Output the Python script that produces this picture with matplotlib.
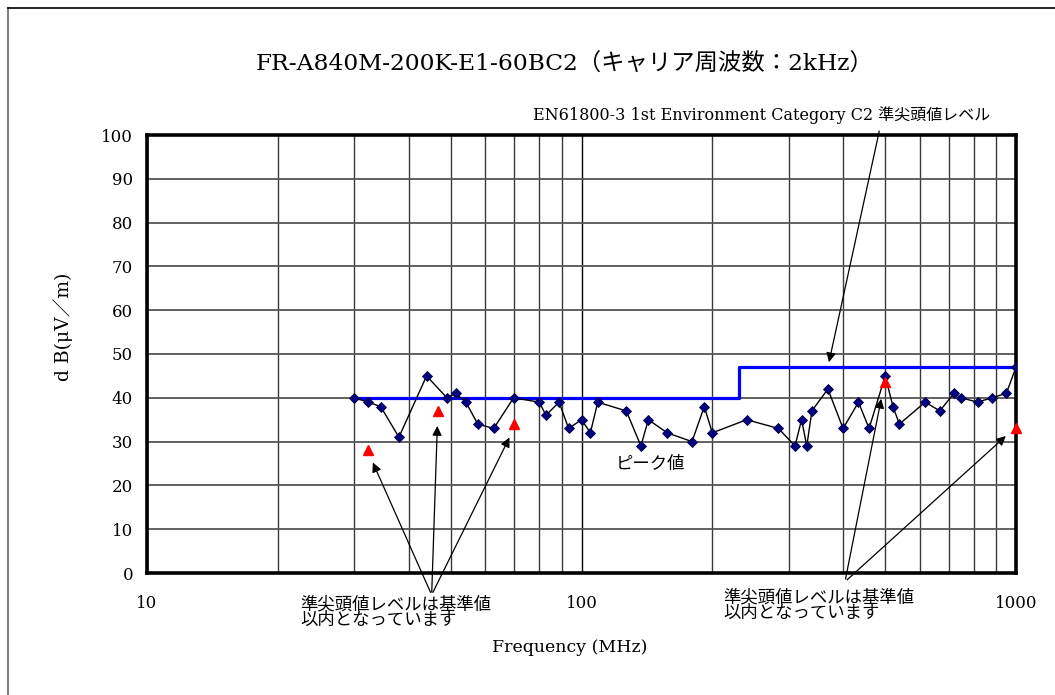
import matplotlib
matplotlib.use('Agg')
import matplotlib.pyplot as plt
from matplotlib.lines import Line2D
from matplotlib.ticker import FixedLocator, NullFormatter

plt.rcParams['font.family'] = ['DejaVu Serif', 'Noto Sans CJK JP']

# peak values (MHz, dB)
peak_freq = [30, 32.3, 34.5, 38, 44, 49, 51.3, 54.2, 57.7, 62.8, 69.8, 80, 82.8, 88.8,
             93.4, 100, 104.8, 109, 126.8, 137, 142.5, 157.5, 179.6, 191.7, 200, 240,
             284, 310, 321, 330, 339, 369, 400, 434, 459, 500, 521, 539, 618, 668, 719,
             748, 816, 879, 950, 1000]
peak_db = [40, 39, 38, 31, 45, 40, 41, 39, 34, 33, 40, 39, 36, 39, 33, 35, 32, 39, 37,
           29, 35, 32, 30, 38, 32, 35, 33, 29, 35, 29, 37, 42, 33, 39, 33, 45, 38, 34,
           39, 37, 41, 40, 39, 40, 41, 47]

# quasi-peak values
qp_freq = [32.3, 46.7, 70, 500, 1000]
qp_db = [28, 37, 34, 43.5, 33]

# EN61800-3 C2 quasi-peak limit
limit_freq = [30, 230, 1000]
limit_db = [40, 47, 47]

x_ticks = [10, 100, 1000]
x_minor = [20, 30, 40, 50, 60, 70, 80, 90, 200, 300, 400, 500, 600, 700, 800, 900]
y_ticks = list(range(0, 101, 10))

fig = plt.figure(figsize=(10.55, 6.95), dpi=100)
ax = fig.add_axes([147/1055, 1-573/695, (1016-147)/1055, (573-135)/695])

ax.set_xscale('log')
ax.set_xlim(10, 1000)
ax.set_ylim(0, 100)
ax.xaxis.set_major_locator(FixedLocator(x_ticks))
ax.xaxis.set_minor_locator(FixedLocator(x_minor))
ax.xaxis.set_minor_formatter(NullFormatter())
ax.set_xticks(x_ticks)
ax.set_xticklabels([str(v) for v in x_ticks])
ax.set_yticks(y_ticks)

ax.grid(which='major', axis='x', color='black', lw=1.0)
ax.grid(which='minor', axis='x', color='#3a3a3a', lw=1.0)
ax.grid(which='major', axis='y', color='#555555', lw=1.3)
ax.set_axisbelow(True)
ax.tick_params(which='both', length=0)
ax.tick_params(axis='x', pad=16, labelsize=12)
ax.tick_params(axis='y', pad=10, labelsize=12)
for sp in ax.spines.values():
    sp.set_linewidth(2.6)

ax.plot(limit_freq, limit_db, drawstyle='steps-post', color='#0000ff', lw=2.3, zorder=3)
ax.plot(peak_freq, peak_db, color='black', lw=1.0, marker='D', ms=5,
        mfc='#000080', mec='#000040', mew=0.6, zorder=4)
ax.plot(qp_freq, qp_db, ls='none', marker='^', ms=7, color='#ff0000', zorder=5,
        clip_on=False)

arr = dict(arrowstyle='-|>', color='black', lw=0.9, mutation_scale=14)

fig.text(990/1055, 1-115/695, 'EN61800-3 1st Environment Category C2 準尖頭値レベル',
         ha='right', va='center', fontsize=11.5)
ax.annotate('', xy=(370, 47.5), xytext=(486, 101.5), arrowprops=arr,
            annotation_clip=False)
ax.text(144.5, 24.7, 'ピーク値', ha='center', va='center', fontsize=12.5)

left_tips = [(32.9, 25.8), (46.6, 34.2), (68.7, 31.5)]
for tip in left_tips:
    ax.annotate('', xy=tip, xytext=(45.2, -5.0), arrowprops=arr, annotation_clip=False)
right_tips = [(491, 40.4), (958, 31.7)]
for tip in right_tips:
    ax.annotate('', xy=tip, xytext=(404, -2.0), arrowprops=arr, annotation_clip=False)

note = '準尖頭値レベルは基準値\n以内となっています'
fig.text(300/1055, 1-597/695, note, ha='left', va='top', fontsize=12.5, linespacing=0.85)
fig.text(723/1055, 1-590/695, note, ha='left', va='top', fontsize=12.5, linespacing=0.85)

fig.text(565/1055, 1-65/695, 'FR-A840M-200K-E1-60BC2（キャリア周波数：2kHz）',
         ha='center', va='center', fontsize=16.8)
fig.text(570/1055, 1-648/695, 'Frequency (MHz)', ha='center', va='center', fontsize=12.5)
fig.text(63/1055, 1-327/695, 'd B(μV／m)', ha='center', va='center', rotation=90,
         fontsize=13.5)

# outer frame of the sheet
fig.add_artist(Line2D([8/1055, 8/1055], [0, 1-8/695], color='#808080', lw=1.5))
fig.add_artist(Line2D([8/1055, 1], [1-8/695, 1-8/695], color='black', lw=1.2))

fig.savefig('out.png', dpi=100)
